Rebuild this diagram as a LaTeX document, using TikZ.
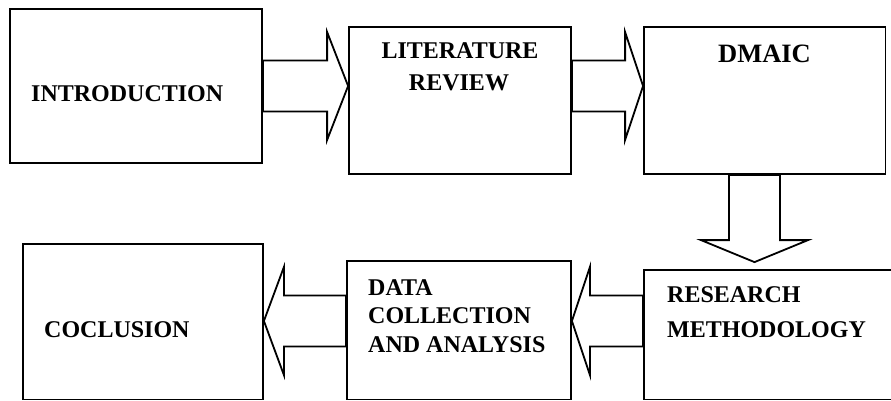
\documentclass[tikz,border=0pt]{standalone}
\usepackage{fontspec}
\setmainfont{Liberation Serif}
\usetikzlibrary{calc}

% horizontal block arrow: tail point, tip point, signed head length
\newcommand\hblock[3]{%
  \draw[blk] ($(#1)+(0,-25.5)$) -- ($(#2)+(#3,-25.5)$) -- ($(#2)+(#3,-54)$)
    -- (#2) -- ($(#2)+(#3,54)$) -- ($(#2)+(#3,25.5)$) -- ($(#1)+(0,25.5)$) -- cycle;}

\begin{document}
\begin{tikzpicture}[x=1pt,y=-1pt,
  box/.style={draw,line width=1.8pt,rectangle,inner sep=0pt},
  blk/.style={draw,line width=1.8pt,line join=miter,fill=white},
  txt/.style={inner sep=0pt,anchor=base west,font=\bfseries\fontsize{24}{28}\selectfont},
  ctxt/.style={txt,anchor=base},
  bigtxt/.style={inner sep=0pt,anchor=base,font=\bfseries\fontsize{26.5}{30}\selectfont}]

\clip (0,0) rectangle (891,401);
\fill[white] (0,0) rectangle (891,401);

% the six stages
\node[box,minimum width=252pt,minimum height=154pt]   (intro)    at (136,86) {};
\node[box,minimum width=222pt,minimum height=147pt]   (lit)      at (460,100.5) {};
\node[box,minimum width=241.5pt,minimum height=147pt] (dmaic)    at (764.75,100.5) {};
\node[box,minimum width=256pt,minimum height=129.5pt] (research) at (772,334.75) {};
\node[box,minimum width=224pt,minimum height=138.5pt] (data)     at (459,330.25) {};
\node[box,minimum width=240pt,minimum height=155.5pt] (concl)    at (143,321.75) {};

% labels
\node[txt]  (tintro) at (31,102) {INTRODUCTION};
\node[ctxt] (tlit1)  at (460,59) {LITERATURE};
\node[ctxt] (tlit2)  at (459,91) {REVIEW};
\node[bigtxt] (tdmaic) at (764.5,63) {DMAIC};
\node[txt]  (tres1)  at (667,302) {RESEARCH};
\node[txt]  (tres2)  at (667,337) {METHODOLOGY};
\node[txt]  (tdat1)  at (368,295) {DATA};
\node[txt]  (tdat2)  at (368,323.5) {COLLECTION};
\node[txt]  (tdat3)  at (368,352) {AND ANALYSIS};
\node[txt]  (tconc)  at (44,337) {COCLUSION};

% reference row / column for the block arrows
\coordinate (row2) at (0,321);
\coordinate (col)  at (754.5,0);

% top row: left to right
\hblock{intro.east}{intro.east -| lit.west}{-21}
\hblock{lit.east |- intro.east}{dmaic.west |- intro.east}{-18}

% down from DMAIC
\coordinate (dt) at (dmaic.south -| col);
\coordinate (dh) at ($(research.north -| col)+(0,-7)$);
\draw[blk] ($(dt)+(-25.5,0)$) -- ($(dh)+(-25.5,-22)$) -- ($(dh)+(-53.5,-22)$)
  -- (dh) -- ($(dh)+(53.5,-22)$) -- ($(dh)+(25.5,-22)$) -- ($(dt)+(25.5,0)$) -- cycle;

% bottom row: right to left
\hblock{research.west |- row2}{data.east |- row2}{18}
\hblock{data.west |- row2}{concl.east |- row2}{20}

\end{tikzpicture}
\end{document}
